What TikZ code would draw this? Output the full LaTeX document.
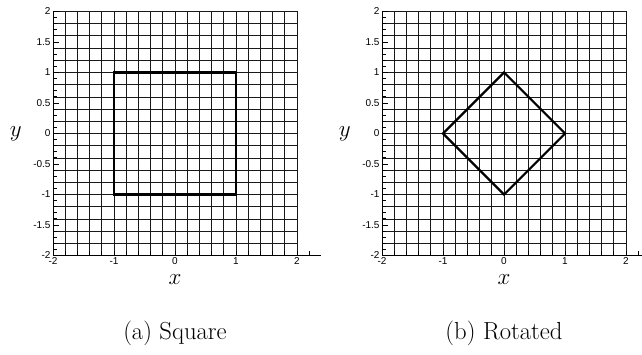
\documentclass[tikz,border=0pt]{standalone}
\usepackage{fontspec}
\newfontfamily\tickfont{Liberation Sans}
\usepackage{tikz}
\usetikzlibrary{positioning}
\definecolor{meshgray}{RGB}{25,25,25}

\begin{document}
\begin{tikzpicture}[x=0.75pt,y=0.75pt,
    meshline/.style={color=meshgray,line width=0.6pt},
    axisline/.style={line width=0.7pt},
    shapeline/.style={line width=1.6pt,line join=miter},
    ticklbl/.style={font=\tickfont\fontsize{7.5}{8}\selectfont,inner sep=1.5pt},
    axlbl/.style={font=\fontsize{19}{23}\selectfont,inner sep=0pt},
    caplbl/.style={font=\fontsize{18.5}{22}\selectfont}]
  \useasboundingbox (0,0) rectangle (642,354);

  \foreach \ox/\tag/\name in {175/a/Square,504/b/Rotated}{
  \begin{scope}[shift={(\ox,220.5)},x=45.75pt,y=45.75pt]
    \coordinate (o\tag) at (0,0);
    % mesh
    \foreach \i in {-10,...,10}{
      \draw[meshline] (\i/5,-2) -- (\i/5,2);
      \draw[meshline] (-2,\i/5) -- (2,\i/5);
    }
    % axes and ticks
    \draw[axisline] (-2,2) -- (-2,-2) -- (2.4,-2);
    \foreach \i in {-20,...,20}
      \draw[axisline] (-2,\i/10) -- ++(0.066,0);
    \foreach \i in {-10,...,11}
      \draw[axisline] (\i/5,-2) -- ++(0,0.066);
    \foreach \y/\lbl [count=\k] in {-2/-2,-1.5/-1.5,-1/-1,-0.5/-0.5,0/0,0.5/0.5,1/1,1.5/1.5,2/2}
      \draw[axisline] (-2,\y) -- ++(0.1,0)
        node[ticklbl,left] (yt\tag\k) at (-2,\y) {\lbl};
    \foreach \x/\lbl [count=\k] in {-2/-2,-1/-1,0/0,1/1,2/2}
      \node[ticklbl,below] (xt\tag\k) at (\x,-2) {\lbl};

    \node[axlbl] (ylab\tag) at (-2.61,0) {$y$};
    \node[axlbl] (xlab\tag) at (0,-2.40) {$x$};
    \node[caplbl] (cap\tag) at (0,-3.27) {(\tag) \name};
  \end{scope}}

  \begin{scope}[shift={(oa)},x=45.75pt,y=45.75pt]
    \draw[shapeline] (-1,-1) -- (1,-1) -- (1,1) -- (-1,1) -- cycle;
  \end{scope}
  \begin{scope}[shift={(ob)},x=45.75pt,y=45.75pt]
    \draw[shapeline] (-1,0) -- (0,1) -- (1,0) -- (0,-1) -- cycle;
  \end{scope}
\end{tikzpicture}
\end{document}
